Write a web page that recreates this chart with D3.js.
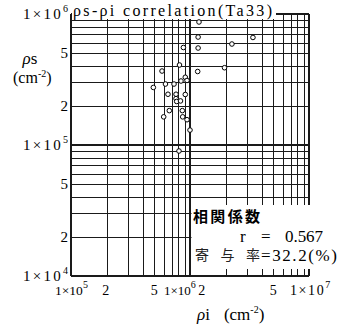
<!DOCTYPE html>
<html><head><meta charset="utf-8">
<script src="https://cdn.jsdelivr.net/npm/d3@7"></script>
<style>body{margin:0;background:#fff}svg{display:block}</style>
</head><body><svg id="c" width="344" height="325"></svg>
<script>
// ρi (cm^-2) and ρs (cm^-2) for each sample, Ta33
const rhoI = [1.19e6,1.17e6,1.17e6,8.8e5,3.38e6,2.25e6,8.16e5,5.82e5,1.16e6,1.95e6,
              9.13e5,8.4e5,9.44e5,4.92e5,6.22e5,7.34e5,6.53e5,7.63e5,9.13e5,7.63e5,
              7.73e5,8.32e5,6.7e5,8.62e5,6.01e5,8.68e5,9.44e5,1.0e6,8.08e5];
const rhoS = [8.69e5,6.67e5,5.5e5,5.55e5,6.62e5,5.9e5,4.08e5,3.67e5,3.64e5,3.89e5,
              3.29e5,3.08e5,3.11e5,2.75e5,2.92e5,2.92e5,2.44e5,2.44e5,2.43e5,2.26e5,
              2.15e5,2.17e5,1.83e5,1.83e5,1.64e5,1.64e5,1.56e5,1.3e5,9.0e4];

const xTickValues = [1e5,2e5,5e5,1e6,2e6,5e6,1e7];
const xTickText   = ["1×10","2","5","1×10","2","5","1×10"];
const xTickExp    = ["5","","","6","","","7"];
const yTickValues = [1e4,2e4,5e4,1e5,2e5,5e5,1e6];
const yTickText   = ["1×10","2","5","1×10","2","5","1×10"];
const yTickExp    = ["4","","","5","","","6"];

const titleText = "ρs-ρi correlation(Ta33)";
const statHeading = "相関係数";
const corrR = "0.567";
const contribution = "32.2";

const svg = d3.select("#c");
const serif = "'Liberation Serif','DejaVu Serif',serif";
const cjk = "'Noto Sans CJK JP','Noto Sans CJK SC',sans-serif";

const x = d3.scaleLog().domain([1e5,1e7]).range([71,309]);
const y = d3.scaleLog().domain([1e4,1e6]).range([276,14]);

// log-paper grid
const gx = x.ticks(), gy = y.ticks();
const isDecade = v => Math.abs(Math.log10(v) - Math.round(Math.log10(v))) < 1e-9;
const grid = svg.append("g").attr("stroke","#1a1a1a").attr("shape-rendering","crispEdges");
grid.selectAll("line.v").data(gx).join("line")
  .attr("x1",d=>Math.round(x(d))).attr("x2",d=>Math.round(x(d)))
  .attr("y1",y(1e6)).attr("y2",y(1e4))
  .attr("stroke-width",d=>isDecade(d)?1.4:1);
grid.selectAll("line.h").data(gy).join("line")
  .attr("y1",d=>Math.round(y(d))).attr("y2",d=>Math.round(y(d)))
  .attr("x1",x(1e5)).attr("x2",x(1e7))
  .attr("stroke-width",d=>isDecade(d)?1.4:1);

// title strip
svg.append("rect").attr("x",x(1e5)+1).attr("y",0).attr("width",204).attr("height",19).attr("fill","#fff");
svg.append("text").attr("x",73).attr("y",16).attr("font-family",serif).attr("font-size",16)
  .attr("textLength",199).attr("lengthAdjust","spacing").text(titleText);

// statistics box
svg.append("rect").attr("x",x(1e6)+1.5).attr("y",205).attr("width",160).attr("height",64).attr("fill","#fff");
svg.append("text").attr("x",193).attr("y",222).attr("font-family",cjk).attr("font-weight","bold")
  .attr("font-size",15).attr("textLength",67).attr("lengthAdjust","spacing").text(statHeading);
svg.append("text").attr("x",240).attr("y",242).attr("font-family",serif).attr("font-size",17).text("r");
svg.append("text").attr("x",261).attr("y",242).attr("font-family",serif).attr("font-size",17).text("=");
svg.append("text").attr("x",285).attr("y",242).attr("font-family",serif).attr("font-size",17)
  .attr("textLength",38).attr("lengthAdjust","spacing").text(corrR);
const kanji = ["寄","与","率"];
svg.selectAll("text.kj").data(kanji).join("text")
  .attr("x",(d,i)=>195+i*25.5).attr("y",260).attr("font-family",cjk).attr("font-size",14)
  .attr("fill","#222").text(d=>d);
svg.append("text").attr("x",261).attr("y",261).attr("font-family",serif).attr("font-size",17)
  .attr("textLength",76).attr("lengthAdjust","spacing").text("=" + contribution + "(%)");

// data points
svg.append("g").selectAll("circle").data(rhoI).join("circle")
  .attr("cx",(d)=>x(d)).attr("cy",(d,i)=>y(rhoS[i])).attr("r",2.3)
  .attr("fill","#fff").attr("stroke","#000").attr("stroke-width",1);

// tick labels
function labelWithExp(sel, txt, exp){
  sel.append("tspan").text(txt);
  if(exp) sel.append("tspan").attr("dy",-7).attr("font-size",10).text(exp);
}
// placement of each x label relative to its tick: [offset, anchor, font size, letter spacing]
const xPlace = [[-16,"start",13.5,0],[-1,"middle",14,0],[0,"middle",14,0],[-26,"start",13,0],
                [-24,"middle",14,0],[0,"middle",14,0],[-19,"start",14,1.6]];
xTickValues.forEach((v,i)=>{
  const [off, anchor, fs, ls] = xPlace[i];
  const t = svg.append("text").attr("x",x(v)+off).attr("y",295)
    .attr("font-family",serif).attr("font-size",fs).attr("text-anchor",anchor)
    .attr("letter-spacing",ls);
  labelWithExp(t, xTickText[i], xTickExp[i]);
});
yTickValues.forEach((v,i)=>{
  const hasExp = !!yTickExp[i];
  const t = svg.append("text").attr("x",hasExp?23:68).attr("y",y(v)+5)
    .attr("font-family",serif).attr("font-size",15).attr("text-anchor",hasExp?"start":"end");
  if(hasExp) t.attr("textLength",45).attr("lengthAdjust","spacing");
  labelWithExp(t, yTickText[i], yTickExp[i]);
});

// axis titles
const yt1 = svg.append("text").attr("x",30).attr("y",64).attr("font-family",serif).attr("font-size",17).attr("text-anchor","middle");
yt1.append("tspan").attr("font-style","italic").text("ρ");
yt1.append("tspan").text("s");
const yt2 = svg.append("text").attr("x",13).attr("y",83).attr("font-family",serif).attr("font-size",16);
yt2.append("tspan").text("(cm");
yt2.append("tspan").attr("dy",-6).attr("font-size",10).text("-2");
yt2.append("tspan").attr("dy",6).text(")");

const xt = svg.append("text").attr("x",197).attr("y",320).attr("font-family",serif).attr("font-size",17);
xt.append("tspan").attr("font-style","italic").text("ρ");
xt.append("tspan").text("i");
xt.append("tspan").attr("dx",14).text("(cm");
xt.append("tspan").attr("dy",-7).attr("font-size",10).text("-2");
xt.append("tspan").attr("dy",7).text(")");
</script></body></html>
